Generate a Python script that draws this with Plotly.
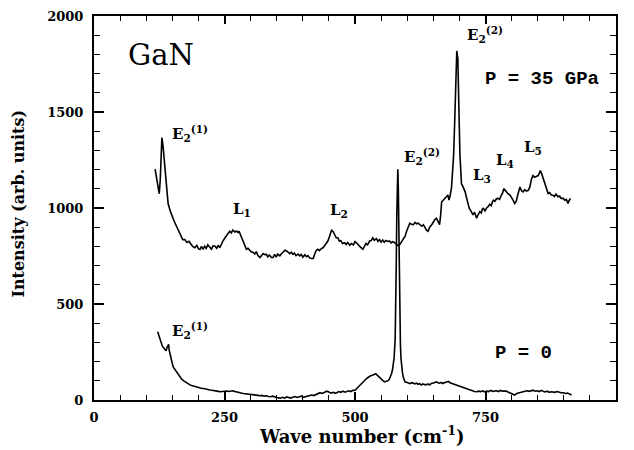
import plotly.graph_objects as go

# P = 35 GPa spectrum
wave_35 = [117,120,123,125,127,129,130,132,134,137,140,142,146,149,153,158,161,164,167,170,174,178,182,185,189,193,197,200,203,206,209,212,215,218,222,225,228,232,235,238,241,244,247,251,254,257,260,263,266,270,273,276,278,281,284,286,289,292,295,298,301,305,308,311,314,318,321,324,327,330,333,336,340,343,346,349,352,356,359,363,366,369,372,375,378,381,384,387,391,394,397,400,404,407,410,413,417,420,423,426,429,432,436,439,442,445,448,451,453,455,458,461,464,467,470,473,476,480,483,486,490,493,497,500,503,506,509,512,515,518,521,524,528,531,534,537,541,544,547,550,553,556,559,563,566,569,572,576,579,582,586,589,592,596,599,602,605,608,612,615,618,621,624,628,631,634,637,640,643,647,650,653,656,659,662,664,666,669,672,676,678,680,682,685,687,689,691,693,695,697,699,700,701,703,704,707,709,711,714,717,719,722,724,726,729,731,733,735,737,739,742,744,746,749,752,755,758,761,763,765,768,771,774,777,780,783,785,788,791,794,797,800,803,806,809,812,814,816,819,822,825,828,832,835,838,841,844,847,851,853,855,858,861,864,867,870,873,876,879,882,885,889,892,895,899,902,905,908,910,913]
int_35 = [1202,1150,1090,1074,1150,1300,1366,1330,1270,1150,1060,1023,985,962,935,905,885,870,850,835,836,820,826,815,800,793,805,788,784,800,785,801,790,808,797,785,803,801,790,806,793,812,828,845,858,868,879,870,885,875,880,872,879,858,838,828,805,785,790,778,772,768,760,773,752,742,750,763,757,759,745,755,742,742,758,744,760,751,762,770,780,776,768,762,770,759,765,752,760,751,758,744,756,746,752,740,737,737,762,780,785,778,790,793,805,818,828,850,872,884,878,862,845,845,828,830,815,819,810,820,806,815,808,825,819,810,800,790,785,800,815,808,828,830,845,832,840,826,835,822,833,822,831,826,828,818,825,819,812,805,810,825,840,853,880,905,921,915,913,925,918,921,915,905,913,895,885,879,900,913,930,940,947,925,913,960,1032,1040,1050,1058,1068,1041,1060,1109,1200,1280,1450,1650,1818,1780,1600,1400,1280,1180,1126,1110,1095,1084,1050,1010,998,985,970,964,978,955,947,960,975,981,975,995,998,985,1000,1007,1020,1012,1030,1041,1035,1048,1050,1045,1065,1080,1101,1090,1080,1072,1067,1055,1040,1024,1035,1070,1100,1109,1090,1084,1095,1088,1092,1110,1150,1169,1160,1165,1169,1180,1195,1175,1150,1126,1100,1075,1080,1068,1067,1060,1072,1058,1062,1050,1050,1040,1045,1024,1038,1050]

# P = 0 spectrum
wave_0 = [122,124,126,127,129,131,133,135,137,138,140,142,143,144,146,148,150,152,155,158,162,165,168,172,175,179,183,187,191,195,199,203,207,210,214,218,222,226,230,234,238,242,246,250,254,258,262,266,270,274,278,282,286,290,294,298,302,306,310,314,318,322,326,330,334,338,342,346,350,354,357,361,365,369,373,377,381,385,389,393,397,401,405,409,413,417,421,425,429,433,437,441,446,450,454,458,462,465,469,473,477,481,484,488,492,496,500,503,506,510,514,518,522,526,529,532,536,540,543,546,548,551,554,557,560,562,564,566,568,570,572,574,575,577,578,579,580,581,582,583,584,585,586,587,588,589,591,593,596,599,602,605,609,612,615,618,621,624,627,630,633,637,640,643,646,650,653,656,659,662,665,668,671,675,679,682,686,690,695,699,702,706,710,714,718,722,726,729,733,737,741,745,748,752,756,760,764,767,771,775,779,783,787,790,794,798,802,806,810,814,818,822,826,830,834,838,841,845,849,853,857,860,864,868,872,876,879,883,887,891,895,899,903,907,911,915]
int_0 = [355,335,320,307,300,280,273,265,262,256,275,290,290,260,230,210,190,171,160,145,128,120,108,100,94,87,80,76,72,70,66,64,60,60,56,54,52,51,50,48,45,43,44,43,47,44,46,48,44,40,38,36,34,33,31,30,28,26,27,24,22,24,20,22,18,17,20,15,13,11,9,14,10,16,12,10,14,18,13,17,20,14,18,22,24,26,23,29,32,38,34,40,46,42,36,40,35,38,44,40,46,41,43,48,44,50,51,60,68,77,88,100,111,120,125,128,134,137,128,120,111,106,100,94,96,98,102,110,122,137,160,190,222,320,450,700,950,1150,1202,1100,850,600,400,290,220,171,140,115,94,92,88,85,90,86,84,88,82,85,78,84,80,80,84,78,86,88,92,94,90,88,92,86,90,94,97,90,86,82,77,72,68,66,62,60,56,52,48,44,43,46,44,48,42,46,44,50,45,48,48,44,50,46,46,46,40,34,30,26,34,38,43,43,46,48,45,50,51,46,48,44,50,46,42,46,40,43,43,40,44,40,38,38,34,36,30,26]

x_ticks = [0, 250, 500, 750, 1000]
y_ticks = [0, 500, 1000, 1500, 2000]

# peak labels: (text, wave, intensity)
label_text = ["E<sub>2</sub><sup>(1)</sup>", "L<sub>1</sub>", "L<sub>2</sub>", "E<sub>2</sub><sup>(2)</sup>",
              "E<sub>2</sub><sup>(2)</sup>", "L<sub>3</sub>", "L<sub>4</sub>", "L<sub>5</sub>", "E<sub>2</sub><sup>(1)</sup>"]
label_wave = [146, 262, 448, 590, 711, 723, 767, 819, 146]
label_int = [1390, 990, 985, 1270, 1905, 1170, 1245, 1315, 360]

X_RANGE = [0, 1000]
Y_RANGE = [0, 2000]
W, H = 634, 450
ML, MR, MT, MB = 94, 18, 9, 50

fig = go.Figure()
line = dict(color="black", width=1.6)
fig.add_trace(go.Scatter(x=wave_35, y=int_35, mode="lines", line=line, showlegend=False))
fig.add_trace(go.Scatter(x=wave_0, y=int_0, mode="lines", line=line, showlegend=False))

lab_font = dict(family="DejaVu Serif", size=15, color="black")
for t, xw, yi in zip(label_text, label_wave, label_int):
    fig.add_annotation(x=xw, y=yi, text="<b>" + t + "</b>", showarrow=False,
                       xanchor="left", yanchor="middle", font=lab_font)

fig.add_annotation(x=62, y=1797, text="GaN", showarrow=False, xanchor="left", yanchor="middle",
                   font=dict(family="DejaVu Serif", size=29, color="black"))
fig.add_annotation(x=745, y=1672, text="<b>P = 35 GPa</b>", showarrow=False, xanchor="left",
                   yanchor="middle", font=dict(family="Liberation Mono", size=19, color="black"))
fig.add_annotation(x=765, y=245, text="<b>P = 0</b>", showarrow=False, xanchor="left",
                   yanchor="middle", font=dict(family="Liberation Mono", size=19, color="black"))

fig.add_annotation(xref="paper", yref="paper", x=(362 - ML) / (W - ML - MR), y=(400 - 436) / (H - MT - MB),
                   text="<b>Wave number (cm<sup>-1</sup>)</b>", showarrow=False,
                   xanchor="center", yanchor="middle",
                   font=dict(family="DejaVu Serif", size=18, color="black"))
fig.add_annotation(xref="paper", yref="paper", x=(19 - ML) / (W - ML - MR), y=(400 - 200) / (H - MT - MB),
                   text="<b>Intensity (arb. units)</b>", showarrow=False, textangle=-90,
                   xanchor="center", yanchor="middle",
                   font=dict(family="DejaVu Serif", size=16, color="black"))

tick_font = dict(family="DejaVu Serif", size=13, color="black")
fig.update_layout(
    width=W, height=H, autosize=False,
    margin=dict(l=ML, r=MR, t=MT, b=MB),
    plot_bgcolor="white", paper_bgcolor="white",
    xaxis=dict(range=X_RANGE, tickmode="array", tickvals=x_ticks,
               ticktext=["<b>%d</b>" % v for v in x_ticks],
               showgrid=False, zeroline=False, showline=True, linecolor="black", linewidth=2,
               mirror="allticks", ticks="inside", ticklen=8, tickwidth=1.6, tickcolor="black",
               ticklabelstandoff=4, tickfont=tick_font,
               minor=dict(dtick=50, tick0=0, ticks="inside", ticklen=5, tickwidth=1.2,
                          tickcolor="black", showgrid=False)),
    yaxis=dict(range=Y_RANGE, tickmode="array", tickvals=y_ticks,
               ticktext=["<b>%d</b>" % v for v in y_ticks],
               showgrid=False, zeroline=False, showline=True, linecolor="black", linewidth=2,
               mirror="allticks", ticks="inside", ticklen=10, tickwidth=1.6, tickcolor="black",
               ticklabelstandoff=6, tickfont=tick_font,
               minor=dict(dtick=100, tick0=0, ticks="inside", ticklen=6, tickwidth=1.2,
                          tickcolor="black", showgrid=False)),
)

fig.write_html("out.html")
